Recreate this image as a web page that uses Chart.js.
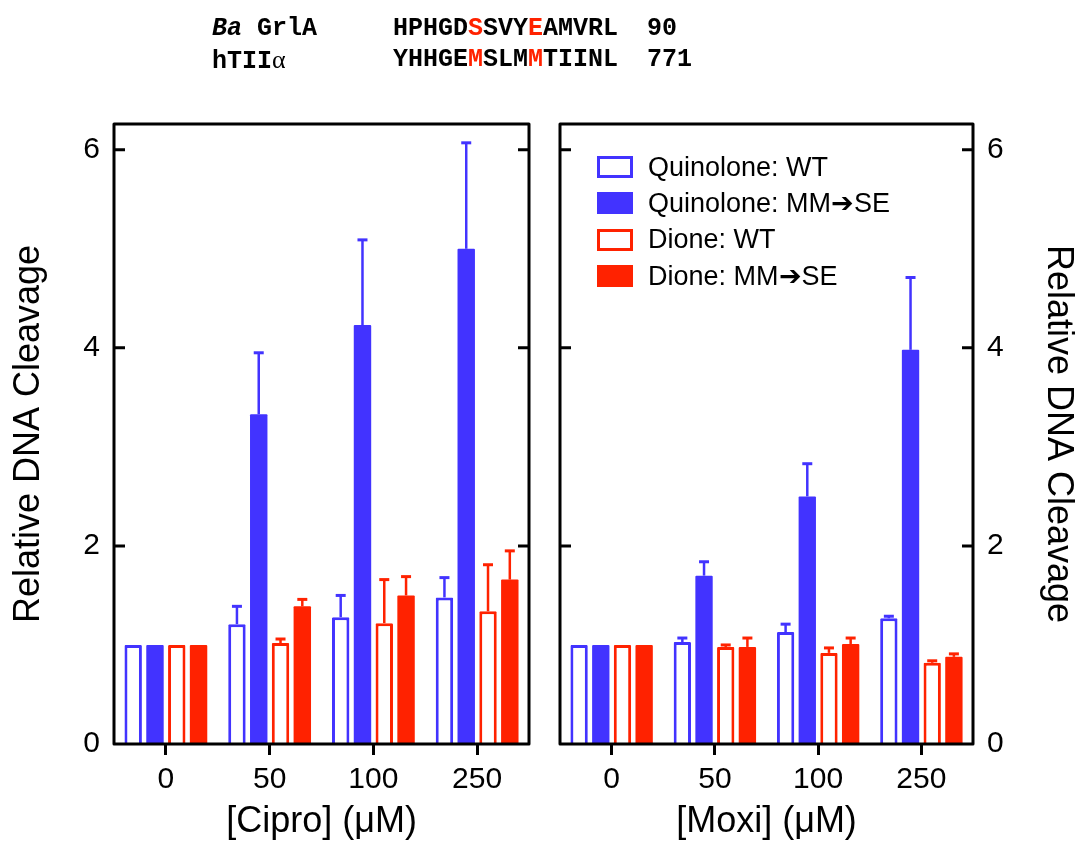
<!DOCTYPE html>
<html>
<head>
<meta charset="utf-8">
<title>Relative DNA Cleavage</title>
<script src="https://cdn.jsdelivr.net/npm/chart.js@4"></script>
<style>
  html, body { margin: 0; padding: 0; background: #fff; }
  #page { position: relative; width: 1078px; height: 843px; overflow: hidden;
          font-family: "Liberation Sans", Arial, Helvetica, sans-serif; color: #000; }
  canvas { position: absolute; top: 0; }
  #cipro { left: 0; }
  #moxi { left: 545px; }
  .seq { position: absolute; font-family: "Liberation Mono", "Courier New", monospace;
         font-weight: bold; font-size: 25px; line-height: 25px; white-space: pre; }
  .seq .hl { color: #FF2200; }
  .seq .greek { font-family: "Liberation Serif", "DejaVu Serif", serif; font-weight: normal; font-size: 26px; }
  #legend { position: absolute; left: 597px; top: 149px; }
  #legend .row { display: flex; align-items: center; height: 36.3px; }
  #legend .sw { width: 36px; height: 22px; box-sizing: border-box; margin-right: 15px; }
  #legend .lab { font-size: 27px; line-height: 27px; white-space: nowrap; }
</style>
</head>
<body>
<div id="page">
  <canvas id="cipro" width="545" height="843"></canvas>
  <canvas id="moxi" width="533" height="843"></canvas>

  <!-- sequence alignment header -->
  <div class="seq" style="left:212px; top:16px;"><i>Ba</i> GrlA</div>
  <div class="seq" style="left:393px; top:16px;">HPHGD<span class="hl">S</span>SVY<span class="hl">E</span>AMVRL</div>
  <div class="seq" style="left:647px; top:16px;">90</div>
  <div class="seq" style="left:212px; top:47px;">hTII<span class="greek">α</span></div>
  <div class="seq" style="left:393px; top:47px;">YHHGE<span class="hl">M</span>SLM<span class="hl">M</span>TIINL</div>
  <div class="seq" style="left:647px; top:47px;">771</div>

  <div id="legend"></div>
</div>

<script>
// Drug concentrations (µM) on the x axis
const categories = ['0', '50', '100', '250'];
const seriesLabels = ['Quinolone: WT', 'Quinolone: MM\u2794SE', 'Dione: WT', 'Dione: MM\u2794SE'];
const yTickValues = [0, 2, 4, 6];
const yTitle = 'Relative DNA Cleavage';

// Ciprofloxacin panel: means and upper error (SD)
const ciproQuinWT      = [1.00, 1.21, 1.28, 1.48];
const ciproQuinWTErr   = [0, 0.18, 0.22, 0.20];
const ciproQuinMM      = [1.00, 3.33, 4.23, 5.00];
const ciproQuinMMErr   = [0, 0.62, 0.86, 1.07];
const ciproDioneWT     = [1.00, 1.02, 1.22, 1.34];
const ciproDioneWTErr  = [0, 0.04, 0.44, 0.47];
const ciproDioneMM     = [1.00, 1.39, 1.50, 1.66];
const ciproDioneMMErr  = [0, 0.07, 0.19, 0.29];

// Moxifloxacin panel
const moxiQuinWT       = [1.00, 1.03, 1.13, 1.27];
const moxiQuinWTErr    = [0, 0.04, 0.08, 0.02];
const moxiQuinMM       = [1.00, 1.70, 2.50, 3.98];
const moxiQuinMMErr    = [0, 0.14, 0.33, 0.73];
const moxiDioneWT      = [1.00, 0.98, 0.92, 0.82];
const moxiDioneWTErr   = [0, 0.02, 0.05, 0.02];
const moxiDioneMM      = [1.00, 0.98, 1.01, 0.88];
const moxiDioneMMErr   = [0, 0.09, 0.06, 0.03];

const BLUE = '#4233FF';
const RED = '#FF2200';
const FONT = '"Liberation Sans", Arial, Helvetica, sans-serif';
const seriesStyles = [
  { color: BLUE, hollow: true },
  { color: BLUE, hollow: false },
  { color: RED, hollow: true },
  { color: RED, hollow: false }
];

function makeDatasets(values, errors) {
  return seriesStyles.map((s, i) => ({
    label: seriesLabels[i],
    data: values[i],
    errorBars: errors[i],
    backgroundColor: s.hollow ? '#ffffff' : s.color,
    borderColor: s.color,
    borderWidth: s.hollow ? 3 : 0,
    borderSkipped: 'start',
    borderRadius: 1,
    categoryPercentage: 0.84,
    barPercentage: 0.8
  }));
}

// upper error bars with caps
const errorBarPlugin = {
  id: 'errorBars',
  afterDatasetsDraw(chart) {
    const ctx = chart.ctx;
    const yScale = chart.scales.y;
    chart.data.datasets.forEach((ds, i) => {
      const meta = chart.getDatasetMeta(i);
      meta.data.forEach((bar, j) => {
        const e = ds.errorBars[j];
        if (!e) return;
        const yTop = yScale.getPixelForValue(ds.data[j] + e);
        ctx.save();
        ctx.strokeStyle = ds.borderColor;
        ctx.lineWidth = 2.5;
        ctx.beginPath();
        ctx.moveTo(bar.x, bar.y);
        ctx.lineTo(bar.x, yTop);
        ctx.stroke();
        ctx.lineWidth = 3;
        ctx.beginPath();
        ctx.moveTo(bar.x - 5, yTop);
        ctx.lineTo(bar.x + 5, yTop);
        ctx.stroke();
        ctx.restore();
      });
    });
  }
};

// closed frame with inward y ticks on both sides
const framePlugin = {
  id: 'frame',
  afterDatasetsDraw(chart) {
    const { ctx, chartArea: a } = chart;
    const yScale = chart.scales.y;
    ctx.save();
    ctx.strokeStyle = '#000';
    ctx.lineWidth = 3;
    ctx.lineJoin = 'round';
    ctx.strokeRect(a.left, a.top, a.right - a.left, a.bottom - a.top);
    ctx.beginPath();
    yScale.ticks.forEach(t => {
      if (t.value === 0) return;
      const py = yScale.getPixelForValue(t.value);
      ctx.moveTo(a.left, py); ctx.lineTo(a.left + 11, py);
      ctx.moveTo(a.right, py); ctx.lineTo(a.right - 11, py);
    });
    ctx.stroke();
    ctx.restore();
  }
};

function makeOptions(side, xTitle) {
  const left = side === 'left';
  return {
    responsive: false,
    animation: false,
    devicePixelRatio: 1,
    layout: { padding: left ? { top: 124, right: 16, left: 0, bottom: 0 }
                             : { top: 124, right: 0, left: 15, bottom: 0 } },
    plugins: { legend: { display: false }, tooltip: { enabled: false } },
    scales: {
      x: {
        type: 'category',
        offset: true,
        grid: { display: true, drawOnChartArea: false, drawTicks: true, tickLength: 11,
                lineWidth: 3, color: '#000', offset: false },
        border: { display: false },
        ticks: { color: '#000', font: { family: FONT, size: 30, lineHeight: 1 }, padding: 10, maxRotation: 0 },
        title: { display: true, text: xTitle, color: '#000',
                 font: { family: FONT, size: 36, lineHeight: 1 }, padding: { top: 0, bottom: 3 } },
        afterFit: s => { s.height = 99; }
      },
      y: {
        position: left ? 'left' : 'right',
        min: 0,
        max: 6.26,
        afterBuildTicks: s => { s.ticks = yTickValues.map(v => ({ value: v })); },
        grid: { display: false, drawTicks: false },
        border: { display: false },
        ticks: { color: '#000', font: { family: FONT, size: 30, lineHeight: 1 }, padding: 14 },
        title: { display: true, text: yTitle, color: '#000',
                 font: { family: FONT, size: 36, lineHeight: 1 },
                 padding: left ? { top: 11, bottom: 0 } : { top: 2, bottom: 0 } },
        afterFit: s => { s.width = left ? 114 : 105; }
      }
    }
  };
}

const ciproChart = new Chart(document.getElementById('cipro'), {
  type: 'bar',
  data: {
    labels: categories,
    datasets: makeDatasets(
      [ciproQuinWT, ciproQuinMM, ciproDioneWT, ciproDioneMM],
      [ciproQuinWTErr, ciproQuinMMErr, ciproDioneWTErr, ciproDioneMMErr])
  },
  options: makeOptions('left', '[Cipro] (\u03bcM)'),
  plugins: [errorBarPlugin, framePlugin]
});

const moxiChart = new Chart(document.getElementById('moxi'), {
  type: 'bar',
  data: {
    labels: categories,
    datasets: makeDatasets(
      [moxiQuinWT, moxiQuinMM, moxiDioneWT, moxiDioneMM],
      [moxiQuinWTErr, moxiQuinMMErr, moxiDioneWTErr, moxiDioneMMErr])
  },
  options: makeOptions('right', '[Moxi] (\u03bcM)'),
  plugins: [errorBarPlugin, framePlugin]
});

// legend inside the Moxi panel, built from the dataset styles
const legendEl = document.getElementById('legend');
moxiChart.data.datasets.forEach(ds => {
  const row = document.createElement('div');
  row.className = 'row';
  const sw = document.createElement('div');
  sw.className = 'sw';
  sw.style.border = '3px solid ' + ds.borderColor;
  sw.style.background = ds.backgroundColor;
  const lab = document.createElement('span');
  lab.className = 'lab';
  lab.textContent = ds.label;
  row.appendChild(sw);
  row.appendChild(lab);
  legendEl.appendChild(row);
});
</script>
</body>
</html>
